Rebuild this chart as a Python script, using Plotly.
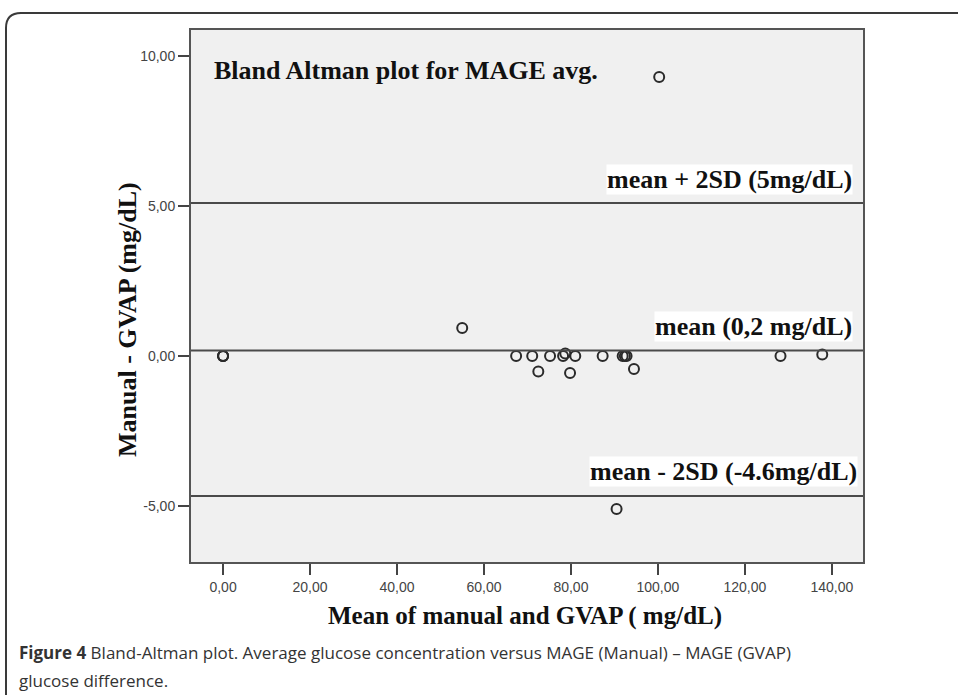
import plotly.graph_objects as go

# ---- data ----
mean_vals = [0.0, 0.0, 0.0, 55.0, 67.4, 71.1, 72.5, 75.2, 78.2, 78.7, 79.8, 81.0,
             87.3, 91.9, 92.4, 92.8, 94.5, 128.2, 137.8, 100.3, 90.5]
diff_vals = [0.0, 0.0, 0.0, 0.93, 0.0, 0.0, -0.52, 0.0, 0.0, 0.08, -0.57, 0.0,
             0.0, 0.0, 0.0, 0.0, -0.43, 0.0, 0.05, 9.3, -5.1]
ref_levels = [5.1, 0.18, -4.67]
ref_labels = ["mean + 2SD (5mg/dL)", "mean (0,2 mg/dL)", "mean - 2SD (-4.6mg/dL)"]
x_ticks = [0, 20, 40, 60, 80, 100, 120, 140]
x_ticklabels = ["0,00", "20,00", "40,00", "60,00", "80,00", "100,00", "120,00", "140,00"]
y_ticks = [-5, 0, 5, 10]
y_ticklabels = ["-5,00", "0,00", "5,00", "10,00"]

W, H = 958, 695
L, R, T, B = 190, 864, 29, 563
XR = [-7.6, 147.4]
YR = [-6.9, 10.9]

def px(xp):
    return (xp - L) / (R - L)

def py(yp):
    return (B - yp) / (B - T)

fig = go.Figure()

fig.add_trace(go.Scatter(
    x=mean_vals, y=diff_vals, mode="markers",
    marker=dict(symbol="circle-open", size=10, color="#2a2a2a", line=dict(width=2, color="#2a2a2a")),
    showlegend=False, hoverinfo="x+y"))

shapes = []
for lv in ref_levels:
    shapes.append(dict(type="line", xref="paper", x0=0, x1=1, yref="y", y0=lv, y1=lv,
                       line=dict(color="#4a4a4a", width=2), layer="above"))

# plot frame
shapes.append(dict(type="rect", xref="paper", yref="paper", x0=0, x1=1, y0=0, y1=1,
                   line=dict(color="#555555", width=2)))

# page border with rounded top-left corner
bl, bt, rad = 6, 13, 15
path = (f"M {px(bl)},{py(H + 20)} L {px(bl)},{py(bt + rad)} "
        f"Q {px(bl)},{py(bt)} {px(bl + rad)},{py(bt)} L {px(W + 20)},{py(bt)}")
shapes.append(dict(type="path", xref="paper", yref="paper", path=path,
                   line=dict(color="#3a3a3a", width=2)))

serif = "Liberation Serif, Times New Roman, serif"
annotations = [
    dict(text="<b>Bland Altman plot for MAGE avg.</b>", xref="paper", yref="paper",
         x=px(212), y=py(71), xanchor="left", yanchor="middle", showarrow=False,
         font=dict(family=serif, size=26, color="#111111")),
]
label_pos = [(853, 179), (853, 326), (858, 471)]
for (lx, ly), txt in zip(label_pos, ref_labels):
    annotations.append(dict(text="<b>" + txt + "</b>", xref="paper", yref="paper",
                            x=px(lx), y=py(ly), xanchor="right", yanchor="middle",
                            showarrow=False, bgcolor="white", borderpad=0,
                            font=dict(family=serif, size=26, color="#111111")))

annotations.append(dict(text="<b>Mean of manual and GVAP ( mg/dL)</b>", xref="paper", yref="paper",
                        x=px(525), y=py(616), xanchor="center", yanchor="middle", showarrow=False,
                        font=dict(family=serif, size=25, color="#111111")))
annotations.append(dict(text="<b>Manual - GVAP (mg/dL)</b>", xref="paper", yref="paper",
                        x=px(127), y=py(320), xanchor="center", yanchor="middle", showarrow=False,
                        textangle=-90, font=dict(family=serif, size=26, color="#111111")))

cap_font = dict(family="Open Sans, Noto Sans, sans-serif", size=17, color="#333333")
annotations.append(dict(text="<b>Figure 4</b> Bland-Altman plot. Average glucose concentration versus MAGE (Manual) – MAGE (GVAP)",
                        xref="paper", yref="paper", x=px(17), y=py(652), xanchor="left", yanchor="middle",
                        showarrow=False, font=cap_font))
annotations.append(dict(text="glucose difference.", xref="paper", yref="paper", x=px(17), y=py(680),
                        xanchor="left", yanchor="middle", showarrow=False, font=cap_font))

tick_font = dict(family="Liberation Sans, Arial, sans-serif", size=14, color="#444444")
fig.update_layout(
    width=W, height=H,
    margin=dict(l=L, r=W - R, t=T, b=H - B, pad=0),
    paper_bgcolor="white", plot_bgcolor="#f0f0f0",
    shapes=shapes, annotations=annotations,
    xaxis=dict(range=XR, tickvals=x_ticks, ticktext=x_ticklabels, showgrid=False, zeroline=False,
               ticks="outside", ticklen=11, tickwidth=2, tickcolor="#444444",
               tickfont=tick_font, showline=False),
    yaxis=dict(range=YR, tickvals=y_ticks, ticktext=y_ticklabels, showgrid=False, zeroline=False,
               ticks="outside", ticklen=11, tickwidth=2, tickcolor="#444444",
               tickfont=tick_font, showline=False),
)

fig.write_html("out.html", config={"displayModeBar": False},
               post_script="document.body.style.margin='0';document.body.style.overflow='hidden';")
